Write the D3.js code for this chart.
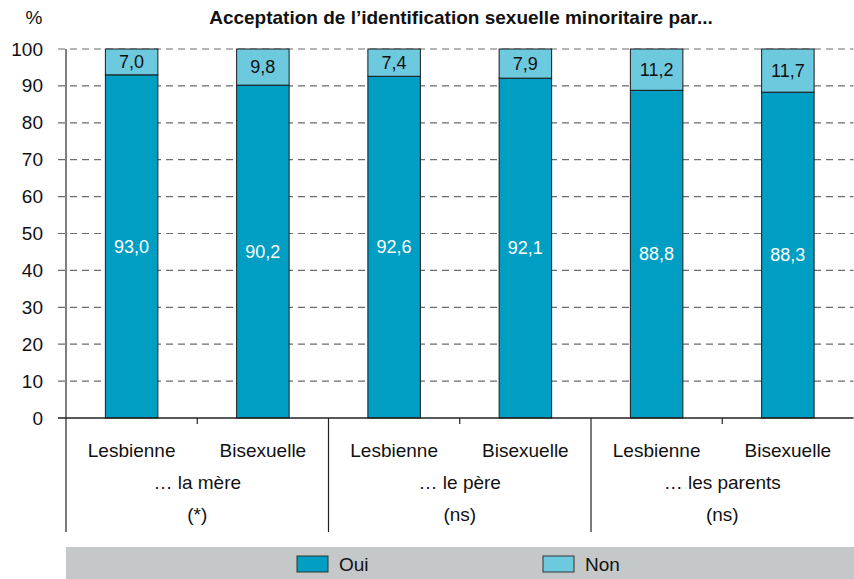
<!DOCTYPE html>
<html>
<head>
<meta charset="utf-8">
<script src="https://cdn.jsdelivr.net/npm/d3@7"></script>
<style>
  body { margin: 0; background: #fff; }
  svg text { font-family: "Liberation Sans Narrow", "Liberation Sans", Arial, sans-serif; }
</style>
</head>
<body>
<svg id="chart" width="854" height="579"></svg>
<script>
// Data
var groups = ["… la mère", "… le père", "… les parents"];
var signif = ["(*)", "(ns)", "(ns)"];
var profiles = ["Lesbienne", "Bisexuelle"];
var oui = [93.0, 90.2, 92.6, 92.1, 88.8, 88.3];
var non = [7.0, 9.8, 7.4, 7.9, 11.2, 11.7];
var yTicks = [0, 10, 20, 30, 40, 50, 60, 70, 80, 90, 100];
var series = ["Oui", "Non"];
var colors = ["#009ec3", "#6dc9de"];

var svg = d3.select("#chart");

// Layout (plot box)
var m = { l: 66, r: 853.5, t: 49, b: 418 };

var x0 = d3.scaleBand().domain(groups).range([m.l, m.r]);
var x1 = d3.scaleBand().domain(profiles).range([0, x0.bandwidth()]).paddingInner(0.6).paddingOuter(0.3);
var y = d3.scaleLinear().domain([0, 100]).range([m.b, m.t]);

function fmt(v) { return v.toFixed(1).replace(".", ","); }

// Rows built from arrays
var rows = [];
groups.forEach(function(g, i) {
  profiles.forEach(function(p, j) {
    var k = i * profiles.length + j;
    rows.push({ group: g, profile: p, oui: oui[k], non: non[k] });
  });
});

// Gridlines
svg.append("g")
  .selectAll("line")
  .data(yTicks.filter(function(d) { return d > 0; }))
  .enter().append("line")
    .attr("x1", m.l - 8)
    .attr("x2", m.r)
    .attr("y1", function(d) { return y(d); })
    .attr("y2", function(d) { return y(d); })
    .style("stroke", "#6b6b6b")
    .style("stroke-width", 1.2)
    .style("stroke-dasharray", "7,5");

// Y axis
var yAxis = svg.append("g")
  .attr("transform", "translate(" + m.l + ",0)")
  .call(d3.axisLeft(y).tickValues(yTicks).tickSize(8).tickPadding(15));
yAxis.select(".domain").style("stroke", "#555").style("stroke-width", 1.5).attr("d", "M0," + m.b + "V" + m.t);
yAxis.selectAll(".tick line").style("stroke", "none");
yAxis.selectAll("text")
  .style("font-size", "19px")
  .style("fill", "#111");

// Bars
var bar = svg.append("g").selectAll("g.bar")
  .data(rows)
  .enter().append("g")
    .attr("class", "bar")
    .attr("transform", function(d) { return "translate(" + (x0(d.group) + x1(d.profile)) + ",0)"; });

bar.append("rect")
  .attr("x", 0)
  .attr("width", x1.bandwidth())
  .attr("y", function(d) { return y(d.oui); })
  .attr("height", function(d) { return y(0) - y(d.oui); })
  .style("fill", colors[0])
  .style("stroke", "#1a1a1a")
  .style("stroke-width", 1);

bar.append("rect")
  .attr("x", 0)
  .attr("width", x1.bandwidth())
  .attr("y", function(d) { return y(d.oui + d.non); })
  .attr("height", function(d) { return y(d.oui) - y(d.oui + d.non); })
  .style("fill", colors[1])
  .style("stroke", "#1a1a1a")
  .style("stroke-width", 1);

bar.append("text")
  .attr("x", x1.bandwidth() / 2)
  .attr("y", function(d) { return y(d.oui / 2); })
  .attr("dy", "0.35em")
  .style("text-anchor", "middle")
  .style("font-size", "18px")
  .style("fill", "#fff")
  .text(function(d) { return fmt(d.oui); });

bar.append("text")
  .attr("x", x1.bandwidth() / 2)
  .attr("y", function(d) { return y(d.oui + d.non / 2); })
  .attr("dy", "0.35em")
  .style("text-anchor", "middle")
  .style("font-size", "18px")
  .style("fill", "#111")
  .text(function(d) { return fmt(d.non); });

// Baseline
svg.append("line")
  .attr("x1", m.l - 8).attr("x2", m.r)
  .attr("y1", y(0)).attr("y2", y(0))
  .style("stroke", "#222").style("stroke-width", 1.5);

// Group separators and mid ticks
var xg = svg.append("g");
groups.forEach(function(g, i) {
  xg.append("line")
    .attr("x1", x0(g)).attr("x2", x0(g))
    .attr("y1", y(0)).attr("y2", 532)
    .style("stroke", "#222").style("stroke-width", 1.2);
  xg.append("line")
    .attr("x1", x0(g) + x0.bandwidth() / 2).attr("x2", x0(g) + x0.bandwidth() / 2)
    .attr("y1", y(0)).attr("y2", y(0) + 6)
    .style("stroke", "#222").style("stroke-width", 1.2);
  profiles.forEach(function(p) {
    xg.append("text")
      .attr("x", x0(g) + x1(p) + x1.bandwidth() / 2)
      .attr("y", 457)
      .style("text-anchor", "middle")
      .style("font-size", "19px")
      .style("fill", "#111")
      .text(p);
  });
  xg.append("text")
    .attr("x", x0(g) + x0.bandwidth() / 2)
    .attr("y", 489)
    .style("text-anchor", "middle")
    .style("font-size", "19px")
    .style("fill", "#111")
    .text(g);
  xg.append("text")
    .attr("x", x0(g) + x0.bandwidth() / 2)
    .attr("y", 521)
    .style("text-anchor", "middle")
    .style("font-size", "19px")
    .style("fill", "#111")
    .text(signif[i]);
});

// Title and unit
svg.append("text")
  .attr("x", 461).attr("y", 24)
  .style("text-anchor", "middle")
  .style("font-size", "19px")
  .style("font-weight", "bold")
  .style("fill", "#111")
  .text("Acceptation de l’identification sexuelle minoritaire par...");

svg.append("text")
  .attr("x", 34).attr("y", 24)
  .style("text-anchor", "middle")
  .style("font-size", "19px")
  .style("fill", "#111")
  .text("%");

// Legend
var legend = svg.append("g");
legend.append("rect")
  .attr("x", m.l).attr("y", 547)
  .attr("width", m.r - m.l + 1).attr("height", 32)
  .style("fill", "#c5c8c9");

var legendX = [297, 543];
series.forEach(function(s, i) {
  legend.append("rect")
    .attr("x", legendX[i]).attr("y", 556)
    .attr("width", 31).attr("height", 16)
    .style("fill", colors[i])
    .style("stroke", "#333")
    .style("stroke-width", 1);
  legend.append("text")
    .attr("x", legendX[i] + 42).attr("y", 571)
    .style("font-size", "19px")
    .style("fill", "#111")
    .text(s);
});
</script>
</body>
</html>
